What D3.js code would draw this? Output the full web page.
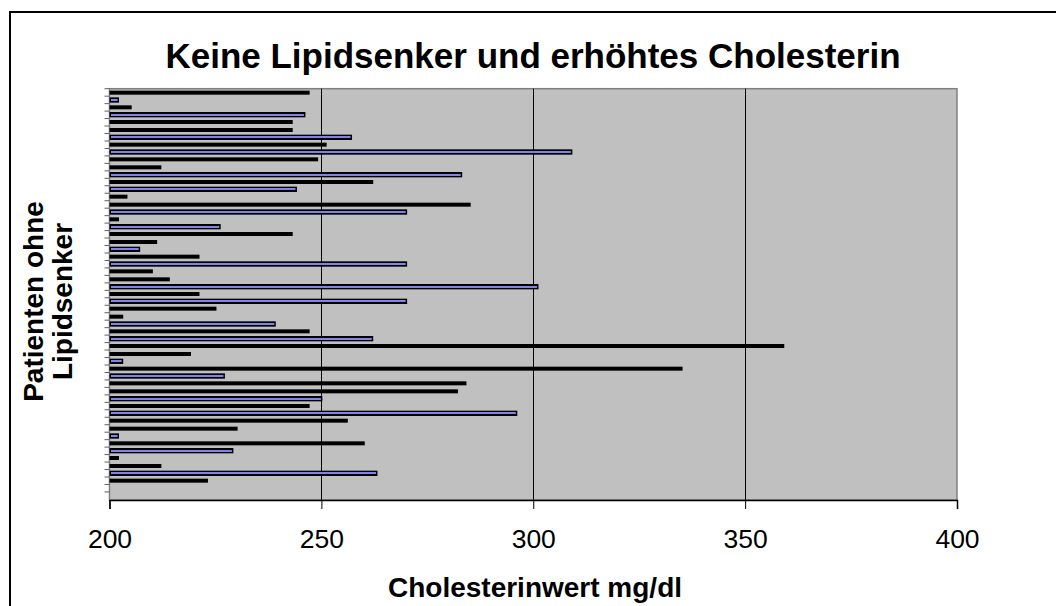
<!DOCTYPE html>
<html>
<head>
<meta charset="utf-8">
<script src="https://cdn.jsdelivr.net/npm/d3@7"></script>
<style>
  html, body { margin: 0; padding: 0; background: #fff; }
  svg { display: block; }
  text { font-family: "Liberation Sans", Arial, sans-serif; fill: #000; }
</style>
</head>
<body>
<svg id="chart" width="1056" height="606"></svg>
<script>
// Patients without lipid-lowering medication (category 1 is drawn at the bottom)
const patients = [1, 2, 3, 4, 5, 6, 7, 8, 9, 10, 11, 12, 13, 14, 15, 16, 17, 18, 19, 20,
  21, 22, 23, 24, 25, 26, 27, 28, 29, 30, 31, 32, 33, 34, 35, 36, 37, 38, 39, 40,
  41, 42, 43, 44, 45, 46, 47, 48, 49, 50, 51, 52, 53, 54, 55];

// Cholesterol in mg/dl per patient (null = no value)
const cholesterol = [null, null, 223, 263, 212, 202, 229, 260, 202, 230, 256, 296, 247, 250,
  282, 284, 227, 335, 203, 219, 359, 262, 247, 239, 203, 225, 270, 221, 301, 214,
  210, 270, 221, 207, 211, 243, 226, 202, 270, 285, 204, 244, 262, 283, 212, 249,
  309, 251, 257, 243, 243, 246, 205, 202, 247];

const xTicks = [200, 250, 300, 350, 400];

const titleText = "Keine Lipidsenker und erhöhtes Cholesterin";
const xTitle = "Cholesterinwert mg/dl";
const yTitleLines = ["Patienten ohne", "Lipidsenker"];

const svg = d3.select("#chart");
const plot = { left: 109.5, right: 957, top: 88.7, bottom: 499.4 };

// Outer chart frame
svg.append("rect")
  .attr("x", 10).attr("y", 12)
  .attr("width", 1080).attr("height", 640)
  .attr("fill", "#fff").attr("stroke", "#000").attr("stroke-width", 2);

const x = d3.scaleLinear().domain([200, 400]).range([plot.left, plot.right]);
const y = d3.scaleBand()
  .domain(patients.slice().reverse())
  .range([plot.top, plot.bottom])
  .paddingInner(0.41)
  .paddingOuter(0.205);

// Plot area
svg.append("rect")
  .attr("x", plot.left).attr("y", plot.top)
  .attr("width", plot.right - plot.left).attr("height", 500 - plot.top)
  .attr("fill", "#c0c0c0").attr("stroke", "#808080").attr("stroke-width", 1.5);

// Vertical gridlines
svg.append("g").selectAll("line")
  .data(xTicks.filter(t => t > 200 && t < 400))
  .join("line")
  .attr("x1", d => Math.round(x(d)) + 0.5).attr("x2", d => Math.round(x(d)) + 0.5)
  .attr("y1", plot.top).attr("y2", 500)
  .attr("stroke", "#000").attr("stroke-width", 1);

// Category axis tick marks
svg.append("g").selectAll("line")
  .data(patients)
  .join("line")
  .attr("x1", plot.left - 5).attr("x2", plot.left)
  .attr("y1", d => y(d) - y.step() * y.paddingInner() / 2)
  .attr("y2", d => y(d) - y.step() * y.paddingInner() / 2)
  .attr("stroke", "#606060").attr("stroke-width", 1);

// Bars: dark outline with a periwinkle core, snapped to a coarse raster grid
const unit = 4 / 3;
const snap = v => Math.round(v / unit) * unit;
const rows = patients.map((p, i) => ({ p, v: cholesterol[i] })).filter(d => d.v != null)
  .map(d => {
    const top = snap(y(d.p));
    const h = snap(y(d.p) + y.bandwidth()) - top;
    return { ...d, top, h };
  });

const bars = svg.append("g");
bars.selectAll("rect.outline")
  .data(rows)
  .join("rect")
  .attr("class", "outline")
  .attr("x", x(200))
  .attr("y", d => d.top)
  .attr("width", d => x(d.v) - x(200) + 1)
  .attr("height", d => d.h)
  .attr("fill", "#000");

bars.selectAll("rect.core")
  .data(rows.filter(d => d.h >= 5))
  .join("rect")
  .attr("class", "core")
  .attr("x", x(200) + 1.5)
  .attr("y", d => Math.round(d.top + d.h / 2 - 1))
  .attr("width", d => Math.max(0, x(d.v) - x(200) - 2))
  .attr("height", 2)
  .attr("fill", "#8282ee");

// Value axis
const xAxis = d3.axisBottom(x).tickValues(xTicks).tickSize(9).tickPadding(20).tickFormat(d3.format("d"));
const gx = svg.append("g").attr("transform", "translate(0,500)").call(xAxis);
gx.select(".domain").attr("stroke", "#000").attr("stroke-width", 1.5);
gx.selectAll(".tick line").attr("stroke", "#000");
gx.selectAll(".tick text")
  .attr("font-family", "Liberation Sans, Arial, sans-serif")
  .attr("font-size", 26.5)
  .attr("fill", "#000");

// Titles
svg.append("text")
  .attr("x", 533).attr("y", 68)
  .attr("text-anchor", "middle")
  .attr("font-size", 35).attr("font-weight", "bold")
  .text(titleText);

svg.append("text")
  .attr("x", 535).attr("y", 597)
  .attr("text-anchor", "middle")
  .attr("font-size", 28).attr("font-weight", "bold")
  .text(xTitle);

const yt = svg.append("text")
  .attr("transform", "translate(43,301.5) rotate(-90)")
  .attr("text-anchor", "middle")
  .attr("font-size", 28).attr("font-weight", "bold");
yTitleLines.forEach((line, i) => {
  yt.append("tspan").attr("x", 0).attr("y", i * 29).text(line);
});
</script>
</body>
</html>
